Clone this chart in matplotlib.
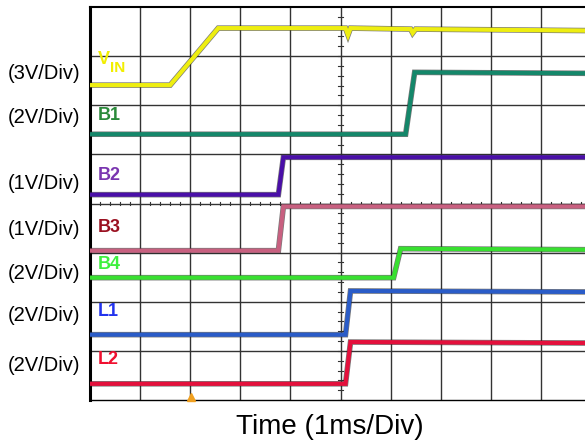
import matplotlib
matplotlib.use("Agg")
import matplotlib.pyplot as plt
import matplotlib.patheffects as pe

plt.rcParams['font.family'] = ['Liberation Sans', 'DejaVu Sans']

# scope traces, in divisions (x: time div, y: screen div from bottom)
vin_t = [0, 1.6, 2.56, 5.1, 5.15, 5.2, 6.4, 6.44, 6.5, 9.9]
vin_v = [6.41, 6.41, 7.57, 7.57, 7.43, 7.57, 7.55, 7.47, 7.55, 7.52]
b1_t = [0, 6.3, 6.48, 9.9]
b1_v = [5.41, 5.41, 6.67, 6.65]
b2_t = [0, 3.76, 3.86, 9.9]
b2_v = [4.18, 4.18, 4.94, 4.94]
b3_t = [0, 3.76, 3.86, 9.9]
b3_v = [3.04, 3.04, 3.94, 3.94]
b4_t = [0, 6.06, 6.2, 9.9]
b4_v = [2.49, 2.49, 3.08, 3.06]
l1_t = [0, 5.1, 5.2, 9.9]
l1_v = [1.33, 1.33, 2.22, 2.2]
l2_t = [0, 5.1, 5.2, 9.9]
l2_v = [0.33, 0.33, 1.18, 1.16]

names = ['V', 'B1', 'B2', 'B3', 'B4', 'L1', 'L2']
name_colors = ['#f2ee00', '#2a8a3a', '#7a35b0', '#9a1020', '#3ef03e', '#2233ee', '#f01030']
name_y = [6.93, 5.8, 4.57, 3.51, 2.76, 1.8, 0.82]
scales = ['(3V/Div)', '(2V/Div)', '(1V/Div)', '(1V/Div)', '(2V/Div)', '(2V/Div)', '(2V/Div)']
scale_y = [6.65, 5.75, 4.4, 3.47, 2.57, 1.72, 0.71]

traces = [(vin_t, vin_v, '#eeee10'), (b1_t, b1_v, '#14876a'), (b2_t, b2_v, '#4a0fa8'),
          (b3_t, b3_v, '#c86080'), (b4_t, b4_v, '#38e030'), (l1_t, l1_v, '#2a5cc8'),
          (l2_t, l2_v, '#e4103c')]

fig = plt.figure(figsize=(5.85, 4.43), dpi=100)
ax = fig.add_axes([90/585, 43/443, 501/585, 393/443])
ax.set_xlim(0, 10)
ax.set_ylim(0, 8)

# grid
for i in range(1, 10):
    ax.axvline(i, color='#333333', lw=1.0, zorder=1)
for j in range(1, 8):
    ax.axhline(j, color='#333333', lw=1.0, zorder=1)
for k in range(50):
    x = k * 0.2
    ax.plot([x, x], [3.96, 4.04], color='#333333', lw=0.8, zorder=1)
for k in range(40):
    y = k * 0.2
    ax.plot([4.96, 5.04], [y, y], color='#333333', lw=0.8, zorder=1)

for t, v, c in traces:
    ax.plot(t, v, color=c, lw=3.0, zorder=3, solid_joinstyle='miter',
            path_effects=[pe.Stroke(linewidth=4.0, foreground='#222222', alpha=0.6), pe.Normal()])

for n, c, y in zip(names, name_colors, name_y):
    ax.text(0.15, y, n, color=c, fontsize=13, fontweight='bold', va='center', ha='left', zorder=4)
# subscript of V_IN
ax.text(0.39, name_y[0] - 0.17, 'IN', color=name_colors[0], fontsize=11,
        fontweight='bold', va='center', ha='left', zorder=4)

for s, y in zip(scales, scale_y):
    ax.text(-0.2, y, s, fontsize=14.5, va='center', ha='right', clip_on=False)

ax.plot([2.02], [0.07], marker='^', color='#f0a020', ms=6, clip_on=False, zorder=5)

ax.set_xticks([])
ax.set_yticks([])
ax.spines['left'].set_linewidth(2.2)
ax.spines['top'].set_linewidth(1.5)
ax.spines['bottom'].set_linewidth(1.0)
ax.spines['right'].set_visible(False)

fig.text(330/585, 1 - 427/443, 'Time (1ms/Div)', fontsize=20, ha='center', va='center')

fig.savefig('out.png', dpi=100)
